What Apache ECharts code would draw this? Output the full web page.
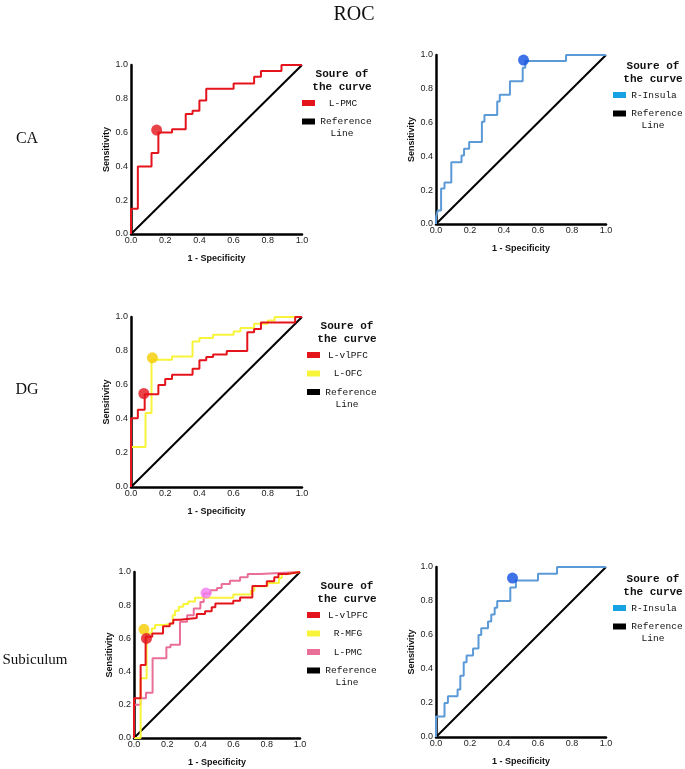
<!DOCTYPE html>
<html><head><meta charset="utf-8">
<script src="https://cdn.jsdelivr.net/npm/echarts@6/dist/echarts.min.js"></script>
<style>html,body{margin:0;padding:0;background:#fff}#c{width:685px;height:769px}</style>
</head><body><div id="c"></div>
<script>
// ---- data ----
const tickLabels = ['0.0','0.2','0.4','0.6','0.8','1.0'];
const refLine = [[0,0],[1,1]];
// CA panel (left): L-PMC
const caPMC = [[0,0],[0,0.15],[0.04,0.15],[0.04,0.40],[0.12,0.40],[0.12,0.48],[0.16,0.48],[0.16,0.60],[0.24,0.60],[0.24,0.62],[0.32,0.62],[0.32,0.71],[0.36,0.71],[0.36,0.73],[0.40,0.73],[0.40,0.79],[0.44,0.79],[0.44,0.86],[0.60,0.86],[0.60,0.89],[0.72,0.89],[0.72,0.93],[0.76,0.93],[0.76,0.965],[0.88,0.965],[0.88,1],[1,1]];
const caPMCcut = [[0.15,0.615]];
// CA panel (right): R-Insula
const caInsula = [[0,0],[0,0.04],[0.01,0.04],[0.01,0.08],[0.03,0.08],[0.03,0.21],[0.05,0.21],[0.05,0.245],[0.09,0.245],[0.09,0.365],[0.15,0.365],[0.15,0.405],[0.165,0.405],[0.165,0.445],[0.195,0.445],[0.195,0.485],[0.27,0.485],[0.27,0.605],[0.285,0.605],[0.285,0.645],[0.36,0.645],[0.36,0.725],[0.375,0.725],[0.375,0.765],[0.435,0.765],[0.435,0.845],[0.51,0.845],[0.51,0.925],[0.525,0.925],[0.525,0.965],[0.765,0.965],[0.765,1],[1,1]];
const caInsulaCut = [[0.515,0.97]];
// DG panel: L-vlPFC, L-OFC
const dgVlPFC = [[0,0],[0,0.405],[0.04,0.405],[0.04,0.455],[0.08,0.455],[0.08,0.545],[0.16,0.545],[0.16,0.60],[0.20,0.60],[0.20,0.635],[0.24,0.635],[0.24,0.66],[0.36,0.66],[0.36,0.695],[0.40,0.695],[0.40,0.745],[0.44,0.745],[0.44,0.765],[0.48,0.765],[0.48,0.78],[0.56,0.78],[0.56,0.80],[0.68,0.80],[0.68,0.91],[0.72,0.91],[0.72,0.93],[0.76,0.93],[0.76,0.968],[0.96,0.968],[0.96,1],[1,1]];
const dgVlPFCcut = [[0.075,0.55]];
const dgOFC = [[0,0],[0,0.235],[0.085,0.235],[0.085,0.435],[0.12,0.435],[0.12,0.748],[0.24,0.748],[0.24,0.768],[0.36,0.768],[0.36,0.856],[0.40,0.856],[0.40,0.876],[0.48,0.876],[0.48,0.896],[0.60,0.896],[0.60,0.915],[0.64,0.915],[0.64,0.935],[0.72,0.935],[0.72,0.96],[0.80,0.96],[0.80,0.98],[0.84,0.98],[0.84,1],[1,1]];
const dgOFCcut = [[0.125,0.76]];
// Subiculum panel (left): L-vlPFC, R-MFG, L-PMC
const subVlPFC = [[0,0],[0,0.24],[0.04,0.24],[0.04,0.44],[0.07,0.44],[0.07,0.61],[0.11,0.61],[0.11,0.63],[0.175,0.63],[0.175,0.673],[0.215,0.673],[0.215,0.69],[0.237,0.69],[0.237,0.713],[0.277,0.713],[0.277,0.723],[0.378,0.723],[0.378,0.747],[0.428,0.747],[0.428,0.763],[0.468,0.763],[0.468,0.787],[0.49,0.787],[0.49,0.81],[0.598,0.81],[0.598,0.827],[0.639,0.827],[0.639,0.847],[0.713,0.847],[0.713,0.915],[0.80,0.915],[0.80,0.944],[0.845,0.944],[0.845,0.968],[0.87,0.968],[0.87,0.988],[0.92,0.988],[0.92,1],[1,1]];
const subVlPFCcut = [[0.075,0.60]];
const subMFG = [[0,0],[0.04,0],[0.04,0.36],[0.076,0.36],[0.076,0.63],[0.107,0.63],[0.107,0.66],[0.127,0.66],[0.127,0.68],[0.177,0.68],[0.177,0.69],[0.233,0.69],[0.233,0.74],[0.247,0.74],[0.247,0.767],[0.27,0.767],[0.27,0.79],[0.297,0.79],[0.297,0.807],[0.327,0.807],[0.327,0.823],[0.367,0.823],[0.367,0.845],[0.598,0.845],[0.598,0.865],[0.705,0.865],[0.705,0.887],[0.725,0.887],[0.725,0.914],[0.805,0.914],[0.805,0.934],[0.873,0.934],[0.873,0.964],[0.89,0.964],[0.89,0.988],[0.92,0.988],[0.92,1],[1,1]];
const subMFGcut = [[0.06,0.655]];
const subPMC = [[0,0],[0,0.2],[0.04,0.2],[0.04,0.24],[0.072,0.24],[0.072,0.273],[0.112,0.273],[0.112,0.48],[0.195,0.48],[0.195,0.546],[0.22,0.546],[0.22,0.562],[0.277,0.562],[0.277,0.70],[0.32,0.70],[0.32,0.74],[0.36,0.74],[0.36,0.78],[0.40,0.78],[0.40,0.82],[0.42,0.82],[0.42,0.87],[0.46,0.87],[0.46,0.89],[0.50,0.89],[0.50,0.904],[0.528,0.904],[0.528,0.928],[0.578,0.928],[0.578,0.948],[0.639,0.948],[0.639,0.968],[0.685,0.968],[0.685,0.988],[0.759,0.988],[0.759,1],[1,1]];
const subPMCcut = [[0.434,0.873]];
// Subiculum panel (right): R-Insula
const subInsula = [[0,0],[0,0.12],[0.05,0.12],[0.05,0.20],[0.07,0.20],[0.07,0.24],[0.127,0.24],[0.127,0.28],[0.143,0.28],[0.143,0.36],[0.163,0.36],[0.163,0.44],[0.18,0.44],[0.18,0.48],[0.218,0.48],[0.218,0.52],[0.25,0.52],[0.25,0.60],[0.266,0.60],[0.266,0.64],[0.306,0.64],[0.306,0.68],[0.325,0.68],[0.325,0.72],[0.345,0.72],[0.345,0.76],[0.36,0.76],[0.36,0.80],[0.437,0.80],[0.437,0.88],[0.47,0.88],[0.47,0.92],[0.60,0.92],[0.60,0.96],[0.712,0.96],[0.712,1],[1,1]];
const subInsulaCut = [[0.45,0.935]];

// ---- styles ----
const RED='#e3141c', YEL='#f7f43a', YELM='#f5cc00', PINK='#ea6f98', PINKM='#f27af0', BLUE='#5b9ad6', BLUEM='#0f4fe0', BLUELEG='#17a3e3';
const grids = [
  {left:131, top:65, width:171, height:169},
  {left:436, top:55, width:170, height:169},
  {left:131, top:317, width:171, height:170},
  {left:134, top:572, width:166, height:166},
  {left:436, top:567, width:170, height:170}
];
const labFmt = v => tickLabels[Math.round(v*5)];
const xAxes = grids.map((g,i)=>({type:'value', gridIndex:i, min:0, max:1, interval:0.2,
  name:'1 - Specificity', nameLocation:'middle', nameGap:20,
  nameTextStyle:{fontFamily:'Liberation Sans', fontWeight:'bold', fontSize:9, color:'#111'},
  axisLine:{lineStyle:{color:'#000', width:2.5}}, axisTick:{show:false}, splitLine:{show:false},
  axisLabel:{formatter:labFmt, fontFamily:'Liberation Sans', fontSize:9, color:'#222', margin:2}}));
const yAxes = grids.map((g,i)=>({type:'value', gridIndex:i, min:0, max:1, interval:0.2,
  name:'Sensitivity', nameLocation:'middle', nameGap:20,
  nameTextStyle:{fontFamily:'Liberation Sans', fontWeight:'bold', fontSize:9, color:'#111'},
  axisLine:{show:true, lineStyle:{color:'#000', width:2.5}}, axisTick:{show:false}, splitLine:{show:false},
  axisLabel:{formatter:labFmt, fontFamily:'Liberation Sans', fontSize:9, color:'#222', margin:3}}));

function curve(data, gi, color){return {type:'line', xAxisIndex:gi, yAxisIndex:gi, data, showSymbol:false, symbol:'none', lineStyle:{color, width:2}, animation:false, z:3};}
function cut(data, gi, color){return {type:'scatter', xAxisIndex:gi, yAxisIndex:gi, data, symbolSize:11, itemStyle:{color}, animation:false, z:5};}
function ref(gi){return {type:'line', xAxisIndex:gi, yAxisIndex:gi, data:refLine, showSymbol:false, symbol:'none', lineStyle:{color:'#000', width:2}, animation:false, z:2};}

const series = [
  ref(0), curve(caPMC,0,RED), cut(caPMCcut,0,RED),
  ref(1), curve(caInsula,1,BLUE), cut(caInsulaCut,1,BLUEM),
  ref(2), curve(dgOFC,2,YEL), curve(dgVlPFC,2,RED), cut(dgOFCcut,2,YELM), cut(dgVlPFCcut,2,RED),
  ref(3), curve(subPMC,3,PINK), curve(subMFG,3,YEL), curve(subVlPFC,3,RED), cut(subMFGcut,3,YELM), cut(subVlPFCcut,3,RED), cut(subPMCcut,3,PINKM),
  ref(4), curve(subInsula,4,BLUE), cut(subInsulaCut,4,BLUEM)
];

// ---- text / legends ----
const G = [];
function txt(x,y,s,font,align){G.push({type:'text', x, y, style:{text:s, font, fill:'#111', align:align||'center', verticalAlign:'middle'}});}
function sw(x,y,color){G.push({type:'rect', shape:{x, y:y-3, width:13, height:6}, style:{fill:color}});}
const TF='bold 11px "Liberation Mono", monospace';
const IF='9.5px "Liberation Mono", monospace';
txt(354,15,'ROC','20px "Liberation Serif", serif');
txt(27,139,'CA','16px "Liberation Serif", serif');
txt(27,390,'DG','16px "Liberation Serif", serif');
txt(35,660,'Subiculum','15px "Liberation Serif", serif');
function legend(x0, yTop, items){
  txt(x0+40,yTop,'Soure of',TF); txt(x0+40,yTop+13,'the curve',TF);
  let y = yTop+29;
  items.forEach(it=>{sw(x0,y,it[1]); txt(x0+41,y,it[0],IF); y+=18.5;});
  sw(x0,y,'#000'); txt(x0+44,y,'Reference',IF); txt(x0+40,y+12,'Line',IF);
}
legend(302,74,[['L-PMC',RED]]);
legend(613,66,[['R-Insula',BLUELEG]]);
legend(307,326,[['L-vlPFC',RED],['L-OFC',YEL]]);
legend(307,586,[['L-vlPFC',RED],['R-MFG',YEL],['L-PMC',PINK]]);
legend(613,579,[['R-Insula',BLUELEG]]);

const chart = echarts.init(document.getElementById('c'));
chart.setOption({animation:false, backgroundColor:'#fff', grid:grids, xAxis:xAxes, yAxis:yAxes, series, graphic:G});
</script></body></html>
